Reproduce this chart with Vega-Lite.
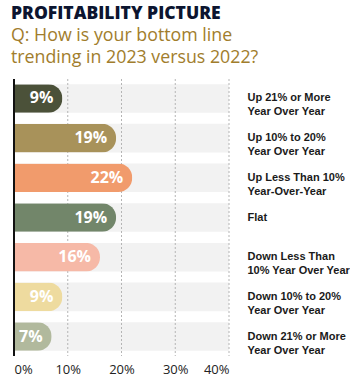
{
  "$schema": "https://vega.github.io/schema/vega-lite/v6.json",
  "width": 215,
  "height": 277,
  "padding": {"left": 11, "top": 4, "right": 0, "bottom": 0},
  "background": "white",
  "title": {
    "text": "PROFITABILITY PICTURE",
    "subtitle": ["Q: How is your bottom line", "trending in 2023 versus 2022?"],
    "anchor": "start",
    "frame": "group",
    "dx": -3,
    "font": "Open Sans",
    "fontSize": 17.5,
    "fontWeight": 800,
    "color": "#0c1530",
    "subtitleFont": "Open Sans",
    "subtitleFontSize": 17.8,
    "subtitleColor": "#a17d2c",
    "subtitleLineHeight": 22,
    "subtitlePadding": 5,
    "offset": 11
  },
  "data": {
    "values": [
      {"answer": "Up 21% or More\nYear Over Year", "pct": 0.09},
      {"answer": "Up 10% to 20%\nYear Over Year", "pct": 0.19},
      {"answer": "Up Less Than 10%\nYear-Over-Year", "pct": 0.22},
      {"answer": "Flat\n", "pct": 0.19},
      {"answer": "Down Less Than\n10% Year Over Year", "pct": 0.16},
      {"answer": "Down 10% to 20%\nYear Over Year", "pct": 0.09},
      {"answer": "Down 21% or More\nYear Over Year", "pct": 0.07}
    ]
  },
  "layer": [
    {
      "mark": {"type": "bar", "color": "#f2f2f2"},
      "encoding": {
        "y": {
          "field": "answer", "type": "nominal", "sort": null,
          "scale": {"paddingInner": 0.28, "paddingOuter": 0.13},
          "axis": {
            "orient": "right", "title": null, "domain": false, "ticks": false,
            "labelPadding": 18, "labelFont": "Liberation Sans", "labelFontWeight": "bold",
            "labelFontSize": 11, "labelColor": "#1a1a1a", "labelLineHeight": 14,
            "labelLimit": 200, "labelAlign": "left",
            "labelExpr": "split(datum.label, '\\n')"
          }
        },
        "x": {
          "datum": 0.4, "type": "quantitative",
          "scale": {"domain": [0, 0.4], "nice": false},
          "axis": {
            "orient": "bottom", "title": null, "format": ".0%", "values": [0, 0.1, 0.2, 0.3, 0.4],
            "domain": false, "ticks": false, "grid": false,
            "labelFont": "Open Sans", "labelFontSize": 13, "labelColor": "#222222", "labelPadding": 7
          }
        }
      }
    },
    {
      "data": {"values": [{"v": 0.1}, {"v": 0.2}, {"v": 0.3}, {"v": 0.4}]},
      "mark": {"type": "rule", "color": "#b5b5b5", "strokeDash": [2, 2], "strokeWidth": 1},
      "encoding": {"x": {"field": "v", "type": "quantitative"}}
    },
    {
      "mark": {"type": "bar", "cornerRadiusEnd": 14},
      "encoding": {
        "y": {"field": "answer", "type": "nominal", "sort": null},
        "x": {"field": "pct", "type": "quantitative"},
        "color": {
          "field": "answer", "type": "nominal", "legend": null,
          "scale": {
            "domain": ["Up 21% or More\nYear Over Year", "Up 10% to 20%\nYear Over Year", "Up Less Than 10%\nYear-Over-Year", "Flat\n", "Down Less Than\n10% Year Over Year", "Down 10% to 20%\nYear Over Year", "Down 21% or More\nYear Over Year"],
            "range": ["#4b5139", "#a8925a", "#f19b6c", "#72866a", "#f6b9a7", "#eedb9f", "#b1b99d"]
          }
        }
      }
    },
    {
      "mark": {"type": "text", "align": "right", "baseline": "middle", "dx": -9, "font": "Open Sans", "fontWeight": "bold", "fontSize": 16, "color": "white"},
      "encoding": {
        "y": {"field": "answer", "type": "nominal", "sort": null},
        "x": {"field": "pct", "type": "quantitative"},
        "text": {"field": "pct", "type": "quantitative", "format": ".0%"}
      }
    },
    {
      "mark": {"type": "rule", "color": "#111111", "strokeWidth": 2},
      "encoding": {"x": {"datum": 0, "type": "quantitative"}}
    }
  ],
  "config": {"view": {"stroke": null}}
}
